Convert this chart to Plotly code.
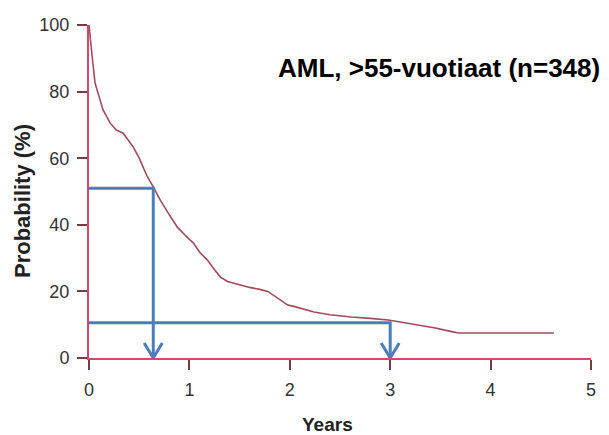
import plotly.graph_objects as go

# Survival curve (years, probability %)
years = [0, 0.01, 0.03, 0.06, 0.11, 0.14, 0.21, 0.27, 0.34, 0.40, 0.44, 0.50, 0.54, 0.58,
         0.64, 0.71, 0.80, 0.88, 0.96, 1.04, 1.11, 1.18, 1.25, 1.31, 1.38, 1.44, 1.51,
         1.60, 1.70, 1.78, 1.85, 1.92, 1.98, 2.04, 2.15, 2.24, 2.40, 2.61, 2.80, 2.98,
         3.10, 3.28, 3.45, 3.60, 3.68, 4.00, 4.30, 4.63]
prob = [100, 97.6, 91, 82.6, 77.5, 74.5, 70.6, 68.5, 67.5, 65.2, 63.4, 60, 57.4, 54.5,
        51.4, 47.4, 43, 39.3, 36.8, 34.5, 31.5, 29.4, 26.5, 24.3, 23, 22.5, 21.9,
        21.2, 20.6, 20.0, 18.6, 17, 15.9, 15.5, 14.5, 13.8, 13.0, 12.3, 11.9, 11.4,
        10.8, 9.9, 9.0, 8.0, 7.5, 7.5, 7.5, 7.5]

# Reading guides: (level %, time in years)
guide_levels = [51, 10.6]
guide_times = [0.64, 3.0]

x_ticks = [0, 1, 2, 3, 4, 5]
y_ticks = [0, 20, 40, 60, 80, 100]

title_text = "AML, >55-vuotiaat (n=348)"
x_title = "Years"
y_title = "Probability (%)"

BLUE = "#4a7ebb"
CURVE = "#a4495a"
AXIS = "#d24868"
TICK = "#7a3a44"

# plot area in pixels (for placing texts in paper coordinates)
L, R, T, B = 89, 591, 25, 358
def px(xp):
    return (xp - L) / (R - L)
def py(yp):
    return (B - yp) / (B - T)

fig = go.Figure()

fig.add_trace(go.Scatter(x=years, y=prob, mode="lines",
                         line=dict(color=CURVE, width=1.6), cliponaxis=False,
                         hoverinfo="skip"))

head_w = 0.09
head_h = 4.5
for lvl, t in zip(guide_levels, guide_times):
    fig.add_trace(go.Scatter(x=[0, t, t], y=[lvl, lvl, 0], mode="lines",
                             line=dict(color=BLUE, width=3), cliponaxis=False,
                             hoverinfo="skip"))
    fig.add_trace(go.Scatter(x=[t - head_w, t, t + head_w], y=[head_h, 0, head_h],
                             mode="lines", line=dict(color=BLUE, width=3),
                             cliponaxis=False, hoverinfo="skip"))

tickfont = dict(family="Liberation Sans, Arial, sans-serif", size=18, color="#333333")

fig.update_layout(
    width=609, height=435,
    margin=dict(l=L, r=609 - R, t=T, b=435 - B),
    paper_bgcolor="white", plot_bgcolor="white",
    showlegend=False,
    xaxis=dict(range=[0, 5], tickvals=x_ticks, showgrid=False, zeroline=False,
               showline=True, linecolor=AXIS, linewidth=2,
               ticks="outside", ticklen=10, tickcolor=TICK, tickwidth=1.5,
               tickfont=tickfont, ticklabelstandoff=4),
    yaxis=dict(range=[0, 100], tickvals=y_ticks, showgrid=False, zeroline=False,
               showline=True, linecolor=AXIS, linewidth=2,
               ticks="outside", ticklen=10, tickcolor=TICK, tickwidth=1.5,
               tickfont=tickfont, ticklabelstandoff=4),
    annotations=[
        dict(text="<b>" + title_text + "</b>", xref="paper", yref="paper",
             x=px(439), y=py(68), xanchor="center", yanchor="middle",
             showarrow=False,
             font=dict(family="Liberation Sans, Arial, sans-serif", size=26, color="black")),
        dict(text="<b>" + x_title + "</b>", xref="paper", yref="paper",
             x=px(327), y=py(424), xanchor="center", yanchor="middle",
             showarrow=False,
             font=dict(family="Liberation Sans, Arial, sans-serif", size=19, color="#222222")),
        dict(text="<b>" + y_title + "</b>", xref="paper", yref="paper",
             x=px(22), y=py(201), xanchor="center", yanchor="middle",
             showarrow=False, textangle=-90,
             font=dict(family="Liberation Sans, Arial, sans-serif", size=22, color="#222222")),
    ],
)

fig.write_html("out.html")
